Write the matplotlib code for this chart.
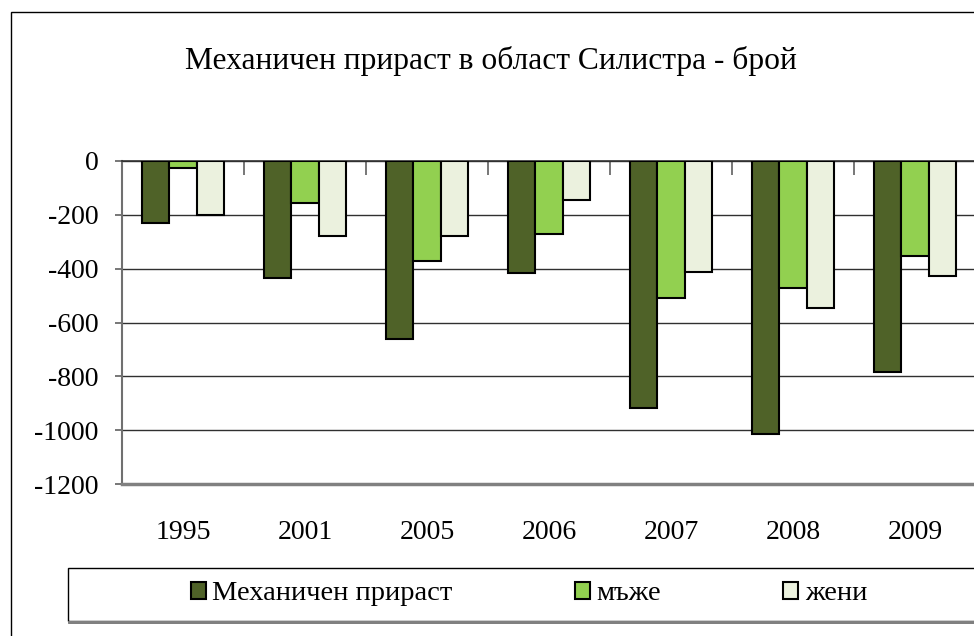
import numpy as np
import matplotlib.pyplot as plt
from matplotlib.patches import Rectangle

plt.rcParams['font.family'] = ['Liberation Serif', 'DejaVu Serif']
plt.rcParams['axes.unicode_minus'] = False

# data
years = ['1995', '2001', '2005', '2006', '2007', '2008', '2009']
total = [-230, -435, -660, -415, -918, -1016, -783]
men = [-25, -155, -373, -272, -508, -471, -353]
women = [-200, -280, -280, -145, -411, -545, -427]
series_names = ['Механичен прираст', 'мъже', 'жени']
colors = ['#4F6228', '#92D050', '#EBF1DE']

fig = plt.figure(figsize=(9.74, 6.36), dpi=100)
W, H = 974, 636

# outer chart frame (cut off at right / bottom like the source)
fig.patches.append(Rectangle((11 / W, -0.1), 2.0, 1 - 12 / H + 0.1,
                             transform=fig.transFigure, fill=False,
                             edgecolor='black', lw=1.0))

ax = fig.add_axes([122 / W, 1 - 484 / H, (976 - 122) / W, (484 - 161) / H])

x = np.arange(len(years))
w = 1 / 4.5
for i, (vals, name) in enumerate(zip([total, men, women], series_names)):
    ax.bar(x + (i - 1) * w, vals, w, color=colors[i], edgecolor='black',
           linewidth=1.5, label=name, zorder=3)

ax.set_xlim(-0.5, len(years) - 0.5)
ax.set_ylim(-1200, 0)
ax.set_yticks(np.arange(-1200, 1, 200))
ax.yaxis.grid(True, color='#303030', linewidth=1.0, zorder=0)
ax.set_axisbelow(True)

ax.set_xticks(x)
ax.set_xticklabels(years, fontsize=20)
ax.set_xticks(np.arange(0.5, len(years) - 0.5, 1), minor=True)
ax.tick_params(axis='x', which='major', length=0, pad=26)
ax.tick_params(axis='x', which='minor', bottom=False, top=True,
               direction='in', length=10, color='#606060', width=1.2)
ax.tick_params(axis='y', which='major', direction='out', length=5,
               color='#606060', width=1.2, labelsize=20, pad=12)

ax.spines['right'].set_visible(False)
ax.spines['top'].set_color('#303030')
ax.spines['top'].set_linewidth(1.2)
ax.spines['left'].set_color('#707070')
ax.spines['left'].set_linewidth(1.5)
ax.spines['bottom'].set_color('#808080')
ax.spines['bottom'].set_linewidth(2.5)

fig.text(491 / W, 1 - 61 / H, 'Механичен прираст в област Силистра - брой',
         ha='center', va='center', fontsize=22.7)

# legend frame
fig.patches.append(Rectangle((68 / W, 1 - 621 / H), (990 - 68) / W, (621 - 568) / H,
                             transform=fig.transFigure, fill=False,
                             edgecolor='black', lw=1.0))
fig.patches.append(Rectangle((68 / W, 1 - 622 / H), (990 - 68) / W, 0,
                             transform=fig.transFigure, fill=False,
                             edgecolor='#808080', lw=2.0))
h, l = ax.get_legend_handles_labels()
fig.legend(h, l, loc='center', bbox_to_anchor=(529 / W, 1 - 594 / H), ncol=3,
           frameon=False, fontsize=20.5, handlelength=0.53, handleheight=0.53,
           handletextpad=0.22, columnspacing=4.3)

fig.savefig('out.png', dpi=100)
